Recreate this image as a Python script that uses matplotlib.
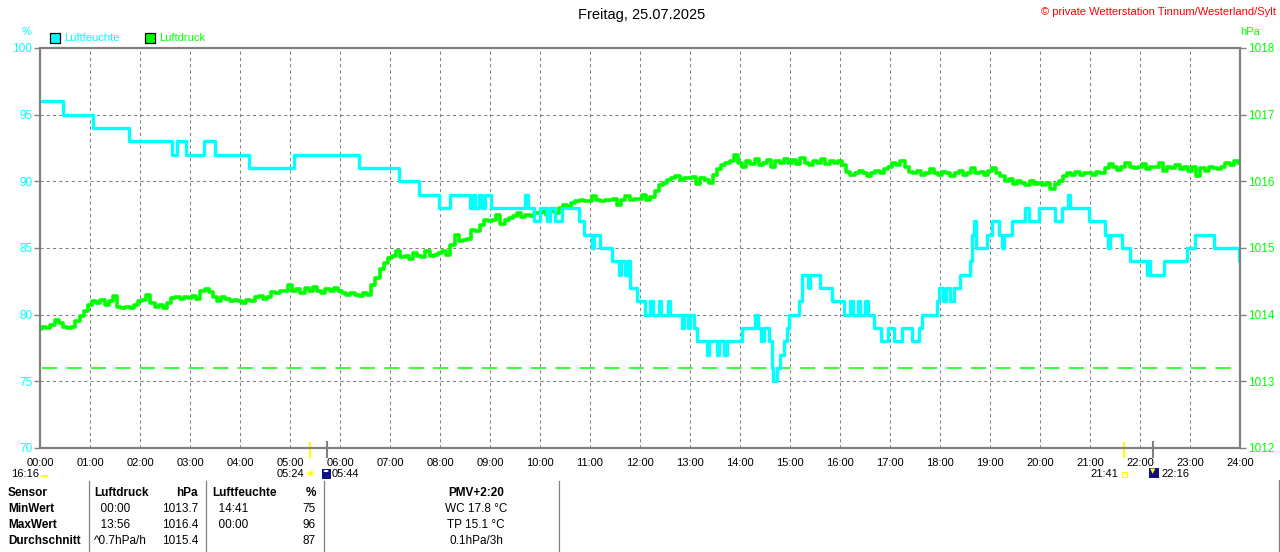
import matplotlib
matplotlib.use('Agg')
import matplotlib.pyplot as plt
from matplotlib.patches import Rectangle, Circle, Wedge

# Humidity (%) as steps: start hour of each step and its value
hum_t = [0, 0.46, 1.06, 1.77, 2.63, 2.73, 2.92, 3.28, 3.5, 4.17, 5.07, 6.37, 7.17, 7.57,
         7.97, 8.2, 8.6, 8.65, 8.7, 8.78, 8.83, 8.9, 8.95, 9.03, 9.7, 9.76, 9.87, 10.0,
         10.13, 10.2, 10.3, 10.43, 10.77, 10.87, 11.03, 11.07, 11.2, 11.43, 11.57, 11.62,
         11.7, 11.75, 11.8, 11.93, 12.1, 12.2, 12.25, 12.38, 12.42, 12.55, 12.6, 12.83,
         12.88, 12.95, 13.0, 13.07, 13.13, 13.33, 13.38, 13.53, 13.58, 13.68, 13.73, 14.03,
         14.3, 14.36, 14.42, 14.47, 14.57, 14.63, 14.66, 14.73, 14.8, 14.87, 14.93, 14.97,
         15.17, 15.23, 15.35, 15.4, 15.6, 15.83, 16.07, 16.2, 16.25, 16.35, 16.4, 16.5,
         16.55, 16.67, 16.83, 16.95, 17.07, 17.23, 17.43, 17.57, 17.63, 17.93, 17.98, 18.05,
         18.12, 18.2, 18.27, 18.4, 18.6, 18.65, 18.68, 18.72, 18.93, 19.03, 19.17, 19.23,
         19.27, 19.43, 19.7, 19.77, 19.97, 20.3, 20.43, 20.55, 20.6, 20.97, 21.3, 21.35,
         21.4, 21.63, 21.8, 22.13, 22.17, 22.2, 22.47, 22.93, 23.1, 23.47, 23.97, 24.0]
hum_v = [96, 95, 94, 93, 92, 93, 92, 93, 92, 91, 92, 91, 90, 89,
         88, 89, 88, 89, 88, 89, 88, 89, 89, 88, 89, 88, 87, 88,
         87, 88, 87, 88, 87, 86, 85, 86, 85, 84, 83, 84,
         83, 84, 82, 81, 80, 81, 80, 81, 80, 81, 80, 79,
         80, 79, 80, 79, 78, 77, 78, 77, 78, 77, 78, 79,
         80, 79, 78, 79, 78, 76, 75, 76, 77, 78, 79, 80,
         81, 83, 82, 83, 82, 81, 80, 81, 80, 81, 80, 81,
         80, 79, 78, 79, 78, 79, 78, 79, 80, 81, 82, 81,
         82, 81, 82, 83, 84, 86, 87, 85, 86, 87, 86, 85,
         86, 87, 88, 87, 88, 87, 88, 89, 88, 87, 86, 85,
         86, 85, 84, 83, 84, 83, 84, 85, 86, 85, 84, 84]

# Air pressure (hPa), one reading every 5 minutes, one row per hour
pres_v = [
    1013.78, 1013.82, 1013.80, 1013.85, 1013.92, 1013.88, 1013.82, 1013.80, 1013.82, 1013.90, 1013.98, 1014.05,
    1014.15, 1014.20, 1014.18, 1014.22, 1014.15, 1014.20, 1014.28, 1014.12, 1014.10, 1014.12, 1014.10, 1014.15,
    1014.20, 1014.22, 1014.30, 1014.18, 1014.12, 1014.15, 1014.10, 1014.18, 1014.25, 1014.27, 1014.24, 1014.27,
    1014.25, 1014.28, 1014.24, 1014.36, 1014.38, 1014.34, 1014.26, 1014.20, 1014.27, 1014.24, 1014.20, 1014.22,
    1014.20, 1014.18, 1014.22, 1014.20, 1014.26, 1014.28, 1014.24, 1014.27, 1014.34, 1014.32, 1014.35, 1014.36,
    1014.44, 1014.35, 1014.38, 1014.33, 1014.40, 1014.36, 1014.42, 1014.35, 1014.32, 1014.38, 1014.35, 1014.40,
    1014.36, 1014.33, 1014.30, 1014.32, 1014.30, 1014.28, 1014.32, 1014.30, 1014.45, 1014.55, 1014.68, 1014.78,
    1014.85, 1014.88, 1014.95, 1014.86, 1014.88, 1014.84, 1014.92, 1014.88, 1014.86, 1014.95, 1014.88, 1014.90,
    1014.92, 1014.95, 1014.90, 1015.05, 1015.20, 1015.10, 1015.12, 1015.14, 1015.27, 1015.25, 1015.35, 1015.42,
    1015.40, 1015.42, 1015.50, 1015.36, 1015.42, 1015.45, 1015.48, 1015.52, 1015.47, 1015.50, 1015.48, 1015.52,
    1015.52, 1015.55, 1015.50, 1015.56, 1015.52, 1015.60, 1015.65, 1015.62, 1015.68, 1015.70, 1015.72, 1015.70,
    1015.70, 1015.78, 1015.72, 1015.70, 1015.72, 1015.72, 1015.74, 1015.65, 1015.72, 1015.78, 1015.72, 1015.74,
    1015.74, 1015.80, 1015.72, 1015.76, 1015.85, 1015.95, 1015.98, 1016.02, 1016.05, 1016.08, 1016.02, 1016.05,
    1016.05, 1016.07, 1015.96, 1016.05, 1016.02, 1015.97, 1016.10, 1016.18, 1016.25, 1016.27, 1016.30, 1016.40,
    1016.28, 1016.22, 1016.30, 1016.26, 1016.34, 1016.25, 1016.28, 1016.32, 1016.22, 1016.30, 1016.27, 1016.33,
    1016.27, 1016.32, 1016.26, 1016.35, 1016.28, 1016.24, 1016.30, 1016.27, 1016.34, 1016.26, 1016.30, 1016.27,
    1016.30, 1016.25, 1016.14, 1016.10, 1016.12, 1016.16, 1016.12, 1016.08, 1016.12, 1016.15, 1016.12, 1016.18,
    1016.22, 1016.28, 1016.25, 1016.30, 1016.22, 1016.14, 1016.12, 1016.16, 1016.10, 1016.12, 1016.18, 1016.12,
    1016.10, 1016.14, 1016.12, 1016.08, 1016.12, 1016.15, 1016.10, 1016.12, 1016.20, 1016.12, 1016.14, 1016.10,
    1016.15, 1016.20, 1016.12, 1016.08, 1016.00, 1016.03, 1015.96, 1016.00, 1015.98, 1015.94, 1016.00, 1015.96,
    1015.97, 1015.94, 1015.98, 1015.88, 1015.96, 1016.00, 1016.08, 1016.12, 1016.10, 1016.14, 1016.10, 1016.12,
    1016.12, 1016.10, 1016.14, 1016.12, 1016.20, 1016.26, 1016.22, 1016.17, 1016.22, 1016.28, 1016.22, 1016.20,
    1016.22, 1016.26, 1016.18, 1016.22, 1016.22, 1016.28, 1016.15, 1016.22, 1016.20, 1016.24, 1016.18, 1016.22,
    1016.15, 1016.22, 1016.08, 1016.20, 1016.16, 1016.22, 1016.20, 1016.18, 1016.22, 1016.28, 1016.25, 1016.30,
    1016.28]
pres_t = [i / 12 for i in range(len(pres_v))]

pres_ref = 1013.2
hour_labels = ['%02d:00' % h for h in range(25)]
hum_ticks = [70, 75, 80, 85, 90, 95, 100]
pres_ticks = [1012, 1013, 1014, 1015, 1016, 1017, 1018]

# sun / twilight marks below the axis
sun_marks = [5.4, 21.683]
twi_marks = [5.733, 22.267]

table_rows = [
    ['Sensor', 'Luftdruck', 'hPa', 'Luftfeuchte', '%', 'PMV+2:20'],
    ['MinWert', '  00:00', '1013.7', '  14:41', '75', 'WC 17.8 °C'],
    ['MaxWert', '  13:56', '1016.4', '  00:00', '96', 'TP 15.1 °C'],
    ['Durchschnitt', '^0.7hPa/h', '1015.4', '', '87', '0.1hPa/3h'],
]

CYAN = '#00ffff'
GREEN = '#00ff00'
GRAY = '#808080'
W, H = 1280, 552

plt.rcParams['font.family'] = ['Liberation Sans', 'DejaVu Sans']
plt.rcParams['font.size'] = 8

fig = plt.figure(figsize=(W / 100, H / 100), dpi=100)


def fx(x):
    return x / W


def fy(y):
    return 1 - y / H


# pressure axis at the back (grid lives here), humidity on top
axp = fig.add_axes([fx(40), fy(448), 1200 / W, 400 / H])
axh = axp.twinx()
axp.yaxis.tick_right()
axh.yaxis.tick_left()
axh.set_zorder(axp.get_zorder() + 1)
axh.patch.set_visible(False)

axp.set_xlim(0, 24)
axp.set_ylim(1012, 1018)
axh.set_ylim(70, 100)

axp.set_xticks(range(25))
axp.set_xticklabels(hour_labels)
axp.set_yticks(pres_ticks)
axh.set_yticks(hum_ticks)
axp.grid(True, color=GRAY, linestyle=(0, (3, 3)), linewidth=0.75)

axp.tick_params(axis='x', length=0, pad=7, colors='black', labelsize=8)
axp.tick_params(axis='y', right=True, left=False, labelright=True, labelleft=False,
                length=4, width=1, color=GRAY, pad=1.5, labelsize=8.5)
axh.tick_params(axis='y', left=True, right=False, labelleft=True, labelright=False,
                length=4, width=1, color=GRAY, pad=1.5, labelsize=8.5)
for lab in axp.get_yticklabels():
    lab.set_color(GREEN)
for lab in axh.get_yticklabels():
    lab.set_color(CYAN)

for a in (axp, axh):
    for s in a.spines.values():
        s.set_color(GRAY)
        s.set_linewidth(1.5)

axp.plot(pres_t, pres_v, color=GREEN, linewidth=2.6, drawstyle='steps-mid')
axp.axhline(pres_ref, xmin=0.002, xmax=0.998, color=GREEN, linewidth=1.1,
            dashes=(10, 6))
axh.plot(hum_t, hum_v, color=CYAN, linewidth=2.4, drawstyle='steps-post')

# sunrise / sunset marks
tr = axp.get_xaxis_transform()
for t in sun_marks:
    axp.plot([t, t], [0.012, -0.022], color='#ffff00', linewidth=1.5,
             transform=tr, clip_on=False)
for t in twi_marks:
    axp.plot([t, t], [0.015, -0.022], color=GRAY, linewidth=1.5,
             transform=tr, clip_on=False)

# header texts
fig.text(fx(642), fy(15), 'Freitag, 25.07.2025', ha='center', va='center', fontsize=10.5)
fig.text(fx(1276), fy(12), '© private Wetterstation Tinnum/Westerland/Sylt',
         ha='right', va='center', color='#ff0000', fontsize=8)
fig.text(fx(27), fy(32), '%', ha='center', va='center', color=CYAN, fontsize=8)
fig.text(fx(1250), fy(32), 'hPa', ha='center', va='center', color=GREEN, fontsize=8)

# legend boxes
for x0, col, label in [(50, CYAN, 'Luftfeuchte'), (145, GREEN, 'Luftdruck')]:
    fig.add_artist(Rectangle((fx(x0), fy(43)), 10 / W, 10 / H, facecolor=col,
                             edgecolor='black', linewidth=0.9, transform=fig.transFigure))
    fig.text(fx(x0 + 14), fy(38), label, ha='left', va='center', color=col, fontsize=8)

# sun / moon times row
ry = 474
fig.text(fx(11), fy(ry), '16:16', ha='left', va='center')
fig.add_artist(Wedge((fx(44.5), fy(477)), 4.5 / W, 0, 180, facecolor='#ffff00',
                     edgecolor='none', transform=fig.transFigure))
fig.text(fx(304), fy(ry), '05:24', ha='right', va='center')
fig.add_artist(Circle((fx(310), fy(474)), 3 / W, facecolor='#ffff00', edgecolor='none',
                      transform=fig.transFigure))
fig.text(fx(310), fy(474.5), '\u2600', ha='center', va='center', color='#ffff00',
         fontsize=8, family='DejaVu Sans')
fig.add_artist(Rectangle((fx(322), fy(479)), 9 / W, 10 / H, facecolor='#101080',
                         edgecolor='none', transform=fig.transFigure))
fig.add_artist(Circle((fx(326), fy(471)), 2.5 / W, facecolor='white', edgecolor='none',
                      transform=fig.transFigure))
fig.text(fx(332), fy(ry), '05:44', ha='left', va='center')

fig.text(fx(1118), fy(ry), '21:41', ha='right', va='center')
fig.add_artist(Rectangle((fx(1122), fy(477)), 5 / W, 5 / H, facecolor='none',
                         edgecolor='#ffff00', linewidth=0.8, transform=fig.transFigure))
fig.add_artist(Rectangle((fx(1149), fy(478)), 10 / W, 10 / H, facecolor='#101080',
                         edgecolor='none', transform=fig.transFigure))
fig.text(fx(1153), fy(471), '\u25bc', ha='center', va='center', color='#ffff00',
         fontsize=5, family='DejaVu Sans')
fig.text(fx(1161), fy(ry), '22:16', ha='left', va='center')

# statistics table
row_y = [493, 509, 525, 541]
col_x = [8, 94, 198, 212, 316, 476]
col_ha = ['left', 'left', 'right', 'left', 'right', 'center']
for r, row in enumerate(table_rows):
    for c, txt in enumerate(row):
        bold = (r == 0) or (c == 0)
        fig.text(fx(col_x[c]), fy(row_y[r]), txt, ha=col_ha[c], va='center',
                 fontsize=8.5, fontweight='bold' if bold else 'normal')

for x in [88.5, 205.5, 323.5, 558.5]:
    fig.add_artist(plt.Line2D([fx(x), fx(x)], [fy(481), fy(552)], color=GRAY,
                              linewidth=0.9, transform=fig.transFigure))
fig.add_artist(plt.Line2D([fx(1278.5), fx(1278.5)], [fy(480), fy(552)], color=GRAY,
                          linewidth=0.9, transform=fig.transFigure))

fig.savefig('out.png', dpi=100)
